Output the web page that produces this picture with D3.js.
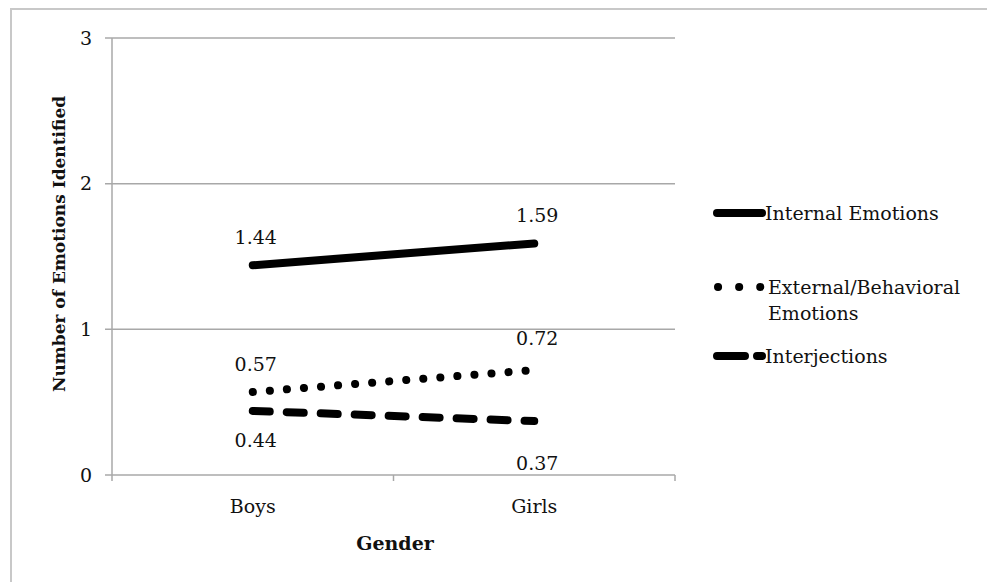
<!DOCTYPE html>
<html><head><meta charset="utf-8">
<script src="https://cdn.jsdelivr.net/npm/d3@7"></script>
<style>body{margin:0;background:#fff}svg{display:block}text{font-family:"DejaVu Serif",serif;fill:#111}</style>
</head><body>
<script>
const categories = ["Boys", "Girls"];
const seriesNames = ["Internal Emotions", "External/Behavioral Emotions", "Interjections"];
const internalVals = [1.44, 1.59];
const externalVals = [0.57, 0.72];
const interjVals = [0.44, 0.37];
const yTicks = [0, 1, 2, 3];

const W = 987, H = 582;
const svg = d3.select("body").append("svg").attr("width", W).attr("height", H);
// outer frame
svg.append("path").attr("d", `M11,${H} L11,9 L${W},9`).attr("fill","none").attr("stroke","#c8c8c8").attr("stroke-width",2);

const pLeft = 112, pRight = 675, pTop = 38, pBottom = 475;
const x = d3.scaleBand().domain(categories).range([pLeft, pRight]);
const y = d3.scaleLinear().domain([0, 3]).range([pBottom, pTop]);

// gridlines
svg.append("g").selectAll("line").data(yTicks).join("line")
  .attr("x1", pLeft - 7).attr("x2", pRight).attr("y1", d => y(d)).attr("y2", d => y(d))
  .attr("stroke", "#a8a8a8").attr("stroke-width", 1.5);
// y axis line
svg.append("line").attr("x1", pLeft).attr("x2", pLeft).attr("y1", pTop).attr("y2", pBottom)
  .attr("stroke", "#a8a8a8").attr("stroke-width", 1.5);
// x ticks at band boundaries
const bounds = [pLeft, ...categories.map(c => x(c) + x.bandwidth())];
svg.append("g").selectAll("line").data(bounds).join("line")
  .attr("x1", d => d).attr("x2", d => d).attr("y1", pBottom).attr("y2", pBottom + 6)
  .attr("stroke", "#a8a8a8").attr("stroke-width", 1.5);

const FS = 19;
// y tick labels
svg.append("g").selectAll("text").data(yTicks).join("text")
  .attr("x", 92).attr("y", d => y(d)).attr("dy", "0.35em").attr("text-anchor", "end")
  .attr("font-size", FS).text(d => d);
// x tick labels
svg.append("g").selectAll("text").data(categories).join("text")
  .attr("x", d => x(d) + x.bandwidth() / 2).attr("y", 513).attr("text-anchor", "middle")
  .attr("font-size", FS).text(d => d);

// axis titles
svg.append("text").attr("x", 395).attr("y", 550).attr("text-anchor", "middle")
  .attr("font-size", 19).attr("font-weight", "bold").text("Gender");
svg.append("text").attr("transform", "translate(65,244) rotate(-90)").attr("text-anchor", "middle")
  .attr("font-size", 17).attr("font-weight", "bold").text("Number of Emotions Identified");

const cx = c => x(c) + x.bandwidth() / 2;
const series = [
  {name: seriesNames[0], vals: internalVals, dash: null, width: 8},
  {name: seriesNames[1], vals: externalVals, dash: "0.1 17", width: 8},
  {name: seriesNames[2], vals: interjVals, dash: "17 17", width: 8}
];
const line = d3.line().x((d, i) => cx(categories[i])).y(d => y(d));
series.forEach(s => {
  svg.append("path").datum(s.vals).attr("d", line).attr("fill", "none")
    .attr("stroke", "#000").attr("stroke-width", s.width).attr("stroke-linecap", "round")
    .attr("stroke-dasharray", s.dash);
});
// data labels
series.forEach((s, si) => {
  svg.append("g").selectAll("text").data(s.vals).join("text")
    .attr("x", (d, i) => cx(categories[i]) + 3)
    .attr("y", (d, i) => y(d) + (si === 2 ? (i === 0 ? 36 : 49) : (si === 0 ? -21 : (i === 0 ? -21 : -25))))
    .attr("text-anchor", "middle").attr("font-size", FS).text(d => d.toFixed(2));
});

// legend
const leg = [
  {y: 213, x1: 717, x2: 762, dash: null, lines: ["Internal Emotions"]},
  {y: 287, x1: 718, x2: 762, dash: "0.1 21", lines: ["External/Behavioral", "Emotions"]},
  {y: 356, x1: 717, x2: 762, dash: "28 12", lines: ["Interjections"]}
];
leg.forEach((l, i) => {
  svg.append("line").attr("x1", l.x1).attr("x2", l.x2).attr("y1", l.y).attr("y2", l.y)
    .attr("stroke", "#000").attr("stroke-width", 8).attr("stroke-linecap", "round")
    .attr("stroke-dasharray", l.dash);
  svg.append("text").attr("y", l.y)
    .attr("font-size", FS)
    .selectAll("tspan").data(l.lines).join("tspan")
    .attr("x", i === 1 ? 768 : 765).attr("dy", (d, j) => j === 0 ? "0.35em" : 26).text(d => d);
});
</script>
</body></html>
